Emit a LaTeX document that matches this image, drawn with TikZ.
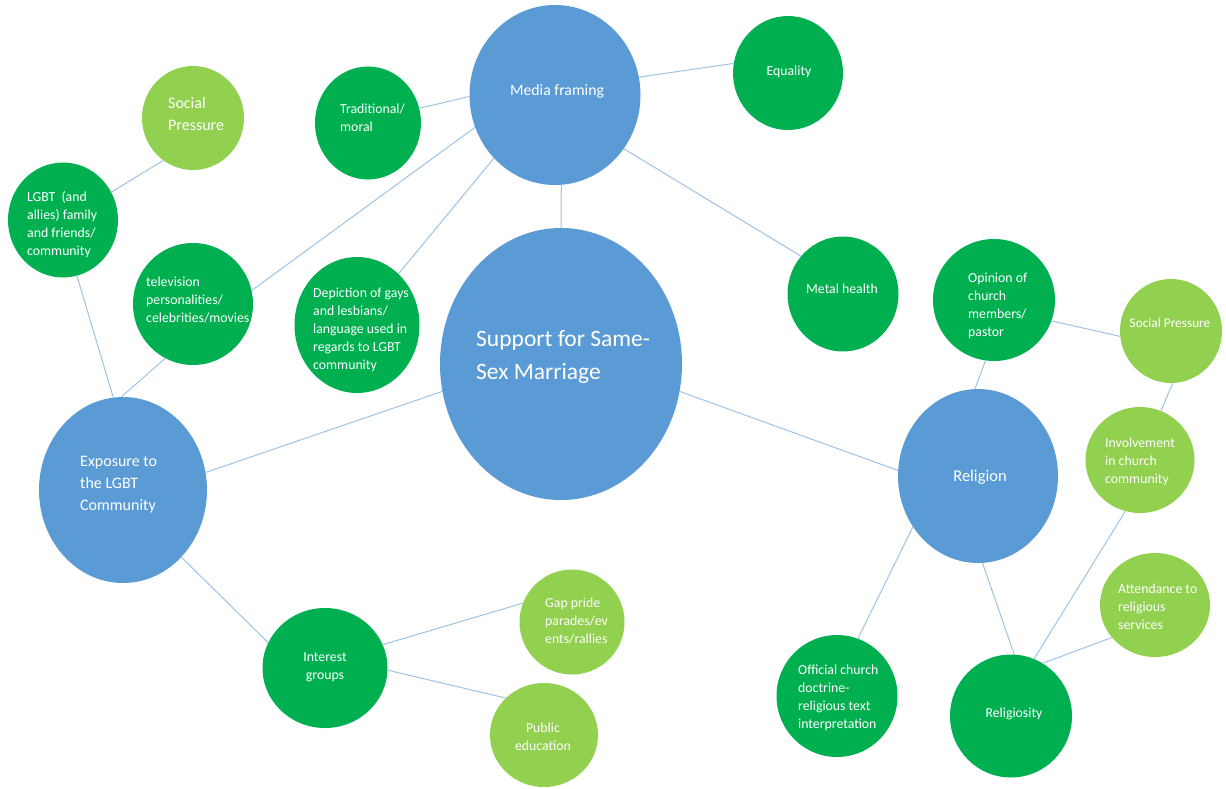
\documentclass[tikz,border=0pt]{standalone}
\usepackage{fontspec}
\setmainfont{Carlito}
\usetikzlibrary{shapes.geometric}
\definecolor{mblue}{RGB}{91,155,213}
\definecolor{dgreen}{RGB}{0,176,80}
\definecolor{lgreen}{RGB}{146,208,80}
\definecolor{linkc}{RGB}{157,195,230}
\tikzset{
  bub/.style={ellipse, inner sep=0pt, draw=none},
  bluebub/.style={bub, fill=mblue},
  dbub/.style={bub, fill=dgreen},
  lbub/.style={bub, fill=lgreen},
  txt/.style={text=white, inner sep=0pt, align=left, font=\fontsize{13.8}{18}\selectfont},
  txtl/.style={txt, anchor=west},
  txtc/.style={txt, anchor=center, align=center},
  conn/.style={draw=linkc, line width=1pt}
}
\begin{document}
\begin{tikzpicture}[x=1pt,y=-1pt]
\useasboundingbox (0,0) rectangle (1226,788);
% blue bubbles
\node[bluebub, minimum width=242pt, minimum height=272pt] (sup) at (561,364) {};
\node[bluebub, minimum width=171pt, minimum height=180pt] (media) at (555,95) {};
\node[bluebub, minimum width=168pt, minimum height=186pt] (expo) at (123,490) {};
\node[bluebub, minimum width=160pt, minimum height=174pt] (rel) at (978,476) {};
% dark green
\node[dbub, minimum width=106pt, minimum height=113pt] (trad) at (368,123) {};
\node[dbub, minimum width=110pt, minimum height=114pt] (equal) at (788,73) {};
\node[dbub, minimum width=110pt, minimum height=115pt] (fam) at (63,220) {};
\node[dbub, minimum width=120pt, minimum height=122pt] (tv) at (193,304) {};
\node[dbub, minimum width=125pt, minimum height=136pt] (dep) at (357,325) {};
\node[dbub, minimum width=111pt, minimum height=115pt] (ment) at (843,294) {};
\node[dbub, minimum width=122pt, minimum height=122pt] (opin) at (994,300) {};
\node[dbub, minimum width=125pt, minimum height=120pt] (inter) at (325,668) {};
\node[dbub, minimum width=121pt, minimum height=122pt] (offic) at (837,696) {};
\node[dbub, minimum width=122pt, minimum height=123pt] (relig) at (1011,716) {};
% light green
\node[lbub, minimum width=102pt, minimum height=104pt] (sp1) at (193,118) {};
\node[lbub, minimum width=102pt, minimum height=104pt] (sp2) at (1171,331) {};
\node[lbub, minimum width=109pt, minimum height=106pt] (invol) at (1140,460) {};
\node[lbub, minimum width=110pt, minimum height=104pt] (attend) at (1155,605) {};
\node[lbub, minimum width=105pt, minimum height=105pt] (gay) at (572,622) {};
\node[lbub, minimum width=108pt, minimum height=104pt] (pub) at (544,735) {};
% texts
\node[txtl, font=\fontsize{23.5}{33}\selectfont] (sup-t) at (476,357) {Support for Same-\\Sex Marriage};
\node[txtc, font=\fontsize{15.8}{20}\selectfont] (media-t) at (557,91) {Media framing};
\node[txtl, font=\fontsize{16}{22}\selectfont] (expo-t) at (80,485) {Exposure to\\the LGBT\\Community};
\node[txtc, font=\fontsize{16.5}{20}\selectfont] (rel-t) at (980,477) {Religion};
\node[txtl] (trad-t) at (340,117.5) {Traditional/\\moral};
\node[txtc] (equal-t) at (789,72) {Equality};
\node[txtl] (fam-t) at (27,224.5) {LGBT\ \ (and\\allies) family\\and friends/\\community};
\node[txtl] (tv-t) at (146,300) {television\\personalities/\\celebrities/movies};
\node[txtl] (dep-t) at (313,330) {Depiction of gays\\and lesbians/\\language used in\\regards to LGBT\\community};
\node[txtl, font=\fontsize{16}{22}\selectfont] (sp1-t) at (168,114) {Social\\Pressure};
\node[txtc] (ment-t) at (842,289) {Metal health};
\node[txtl] (opin-t) at (968,306) {Opinion of\\church\\members/\\pastor};
\node[txtc, font=\fontsize{13.3}{18}\selectfont] (sp2-t) at (1170,323) {Social Pressure};
\node[txtl] (invol-t) at (1105,462) {Involvement\\in church\\community};
\node[txtl] (offic-t) at (798,697.5) {Official church\\doctrine-\\religious text\\interpretation};
\node[txtc] (relig-t) at (1014,714) {Religiosity};
\node[txtl] (attend-t) at (1118,607) {Attendance to\\religious\\services};
\node[txtc] (inter-t) at (325,667) {Interest\\groups};
\node[txtl] (gay-t) at (545,621) {Gap pride\\parades/ev\\ents/rallies};
\node[txtc] (pub-t) at (543,737) {Public\\education};
% connectors
\draw[conn] (media.274) -- (sup.90);
\draw[conn] (media.181) -- (trad.16);
\draw[conn] (media.12) -- (equal.170);
\draw[conn] (media.202) -- (tv.13);
\draw[conn] (media.226) -- (dep.51);
\draw[conn] (media.322) -- (ment.138);
\draw[conn] (sup.193) -- (expo.12);
\draw[conn] (sup.347) -- (rel.176);
\draw[conn] (sp1.235) -- (fam.30);
\draw[conn] (fam.284) -- (expo.96);
\draw[conn] (tv.243) -- (expo.91);
\draw[conn] (expo.311) -- (inter.156);
\draw[conn] (inter.22) -- (gay.159);
\draw[conn] (inter.358) -- (pub.136);
\draw[conn] (rel.92) -- (opin.262);
\draw[conn] (opin.340) -- (sp2.186);
\draw[conn] (sp2.272) -- (invol.67);
\draw[conn] (rel.218) -- (offic.70);
\draw[conn] (rel.273) -- (relig.87);
\draw[conn] (invol.254) -- (relig.68);
\draw[conn] (attend.217) -- (relig.59);
\end{tikzpicture}
\end{document}
